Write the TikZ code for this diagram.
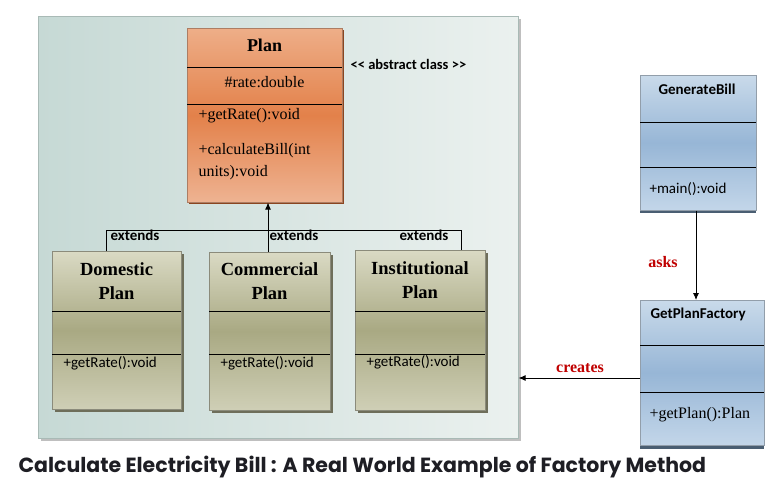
\documentclass[tikz,border=0pt]{standalone}
\usepackage{fontspec}
\setmainfont{Liberation Serif}
\newfontfamily\calfont{Carlito}
\newfontfamily\popfont{Poppins}
\usetikzlibrary{arrows.meta}
\definecolor{panelL}{HTML}{C6D9D5}
\definecolor{panelR}{HTML}{EBF1EF}
\definecolor{panelB}{HTML}{A9BAB6}
\definecolor{orT}{HTML}{EEAE88}
\definecolor{orM}{HTML}{E3814A}
\definecolor{orB}{HTML}{EEB392}
\definecolor{orS}{HTML}{8A4520}
\definecolor{olT}{HTML}{DADAC4}
\definecolor{olM}{HTML}{A9A983}
\definecolor{olB}{HTML}{CFCFB6}
\definecolor{olS}{HTML}{6E6E5A}
\definecolor{blT}{HTML}{C9DAEA}
\definecolor{blM}{HTML}{97B6D6}
\definecolor{blB}{HTML}{C3D6E9}
\definecolor{blS}{HTML}{4A5E72}
\definecolor{redlbl}{HTML}{C00000}
\definecolor{titlec}{HTML}{1E1E24}
\tikzset{
  cls/.style={draw=#1, line width=0.6pt, inner sep=0pt, anchor=north west},
  plancls/.style={cls=orS!70, top color=orT, bottom color=orB, middle color=orM},
  olcls/.style={cls=olS!80, top color=olT, bottom color=olB, middle color=olM},
  blcls/.style={cls=blS!60, top color=blT, bottom color=blB, middle color=blM},
  divider/.style={line width=0.8pt, black},
  conn/.style={line width=0.8pt, black},
  tip/.style={-{Latex[length=7pt,width=6pt]}},
  sertitle/.style={font=\fontsize{18.5}{22}\selectfont\bfseries, align=center},
  sertxt/.style={font=\fontsize{16}{22}\selectfont, anchor=west},
  santxt/.style={font=\calfont\fontsize{15}{18}\selectfont, anchor=west},
  sanbold/.style={font=\calfont\fontsize{15}{18}\selectfont\bfseries},
  redlab/.style={font=\fontsize{16}{19}\selectfont\bfseries, text=redlbl},
}
\begin{document}
\begin{tikzpicture}[x=1pt,y=-1pt]
\useasboundingbox[fill=white] (0,0) rectangle (778,484);
% panel
\fill[black!25] (41,19) rectangle (521,441);
\node[draw=panelB, line width=0.6pt, left color=panelL, right color=panelR, minimum width=480, minimum height=422, inner sep=0pt, anchor=north west] (panel) at (38,16) {};
% Plan
\fill[orS] (189,30) rectangle (344,204);
\node[plancls, minimum width=155, minimum height=174] (plan) at (187,28) {};
\draw[divider] (187,67) -- (342,67);
\draw[divider] (187,104) -- (342,104);
\node[sertitle, font=\fontsize{18}{22}\selectfont\bfseries] (plant) at (264.5,45) {Plan};
\node[sertxt, anchor=center] (planatt) at (264.5,82) {\#rate:double};
\node[sertxt] (planm1) at (195,116) {+getRate():void};
\node[sertxt, align=left, anchor=north west] (planm2) at (195,140) {+calculateBill(int\\units):void};
\node[font=\calfont\fontsize{14.5}{17}\selectfont\bfseries, anchor=west] (abs) at (347,64) {<< abstract class >>};
% subclasses
\fill[olS] (55,254) rectangle (184,412);
\node[olcls, minimum width=129, minimum height=158] (dom) at (52,251) {};
\draw[divider] (52,311) -- (181,311);
\draw[divider] (52,354) -- (181,354);
\node[sertitle] (domt) at (116.5,281) {Domestic\\[2pt]Plan};
\node[santxt] (domm) at (60,363) {+getRate():void};
\fill[olS] (212,255) rectangle (333,413);
\node[olcls, minimum width=121, minimum height=158] (com) at (209,252) {};
\draw[divider] (209,311) -- (330,311);
\draw[divider] (209,354) -- (330,354);
\node[sertitle] (comt) at (269.5,281) {Commercial\\[2pt]Plan};
\node[santxt] (comm) at (217,363) {+getRate():void};
\fill[olS] (358,253) rectangle (488,413);
\node[olcls, minimum width=130, minimum height=160] (inst) at (355,250) {};
\draw[divider] (355,311) -- (485,311);
\draw[divider] (355,354) -- (485,354);
\node[sertitle] (instt) at (420,280) {Institutional\\[2pt]Plan};
\node[santxt] (instm) at (363,362) {+getRate():void};
% extends connectors
\coordinate (j) at (268,230);
\coordinate (d1) at (106,230);
\coordinate (i1) at (461,230);
\draw[conn] (d1 |- dom.north) -- (d1) -- (i1) -- (i1 |- inst.north);
\draw[conn] (j |- com.north) -- (j);
\draw[conn, tip] (j) -- (j |- plan.south);
\node[sanbold] (ext1) at (135,235) {extends};
\node[sanbold] (ext2) at (294,235) {extends};
\node[sanbold] (ext3) at (424,235) {extends};
% GenerateBill
\fill[blS] (640,208) rectangle (756,213);
\node[blcls, minimum width=116, minimum height=135] (gen) at (640,75) {};
\draw[divider] (640,122) -- (756,122);
\draw[divider] (640,167) -- (756,167);
\node[sanbold] (gent) at (697,89) {GenerateBill};
\node[santxt] (genm) at (646,189) {+main():void};
% GetPlanFactory
\fill[blS] (640,444) rectangle (764,449);
\node[blcls, minimum width=124, minimum height=145] (gpf) at (640,300) {};
\draw[divider] (640,345) -- (764,345);
\draw[divider] (640,392) -- (764,392);
\node[sanbold, anchor=west] (gpft) at (647,314) {GetPlanFactory};
\node[sertxt] (gpfm) at (646,415) {+getPlan():Plan};
% asks
\coordinate (a0) at (696,0);
\draw[conn, tip] (a0 |- gen.south) -- (a0 |- gpf.north);
\node[redlab] (asks) at (663,262) {asks};
% creates
\coordinate (c0) at (0,378);
\draw[conn, tip] (c0 -| gpf.west) -- (c0 -| panel.east);
\node[redlab] (creates) at (580,368) {creates};
% title
\node[font=\popfont\fontsize{20.5}{24}\selectfont\bfseries, text=titlec, anchor=west] (title) at (15,467) {Calculate Electricity Bill : A Real World Example of Factory Method};
\end{tikzpicture}
\end{document}
